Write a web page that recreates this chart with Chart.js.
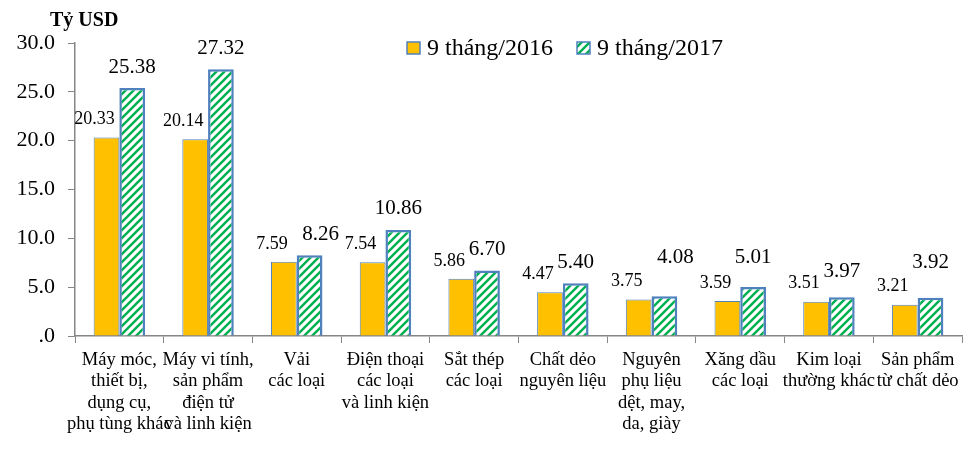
<!DOCTYPE html>
<html>
<head>
<meta charset="utf-8">
<script src="https://cdn.jsdelivr.net/npm/chart.js@4"></script>
<style>
  body { margin: 0; background: #fff; }
  #wrap { width: 975px; height: 464px; position: relative; }
</style>
</head>
<body>
<div id="wrap"><canvas id="c" width="975" height="464"></canvas></div>
<script>
const categories = [
  ["Máy móc,", "thiết bị,", "dụng cụ,", "phụ tùng khác"],
  ["Máy vi tính,", "sản phẩm", "điện tử", "và linh kiện"],
  ["Vải", "các loại"],
  ["Điện thoại", "các loại", "và linh kiện"],
  ["Sắt thép", "các loại"],
  ["Chất dẻo", "nguyên liệu"],
  ["Nguyên", "phụ liệu", "dệt, may,", "da, giày"],
  ["Xăng dầu", "các loại"],
  ["Kim loại", "thường khác"],
  ["Sản phẩm", "từ chất dẻo"]
];
const values2016 = [20.33, 20.14, 7.59, 7.54, 5.86, 4.47, 3.75, 3.59, 3.51, 3.21];
const values2017 = [25.38, 27.32, 8.26, 10.86, 6.70, 5.40, 4.08, 5.01, 3.97, 3.92];
const seriesNames = ["9 tháng/2016", "9 tháng/2017"];
const yTicks = [0, 5, 10, 15, 20, 25, 30];

// label nudges (px) for the hand-placed 2017 labels
const nudgeX2017 = [0, 0, 11, 0, 0, 0, 11, 0, 0, 0];
const nudgeY2017 = [0, 0, 0, 0, 0, 0, -18, -9, -5, -14];

const FONT = "'Liberation Serif', 'Times New Roman', serif";

// 🔹 green diagonal hatch
function makeHatch() {
  const p = document.createElement("canvas");
  p.width = 8; p.height = 8;
  const g = p.getContext("2d");
  g.fillStyle = "#fff";
  g.fillRect(0, 0, 8, 8);
  g.strokeStyle = "#00b050";
  g.lineWidth = 2.4;
  g.beginPath();
  g.moveTo(-2, 10); g.lineTo(10, -2);
  g.moveTo(-6, 6); g.lineTo(6, -6);
  g.moveTo(2, 14); g.lineTo(14, 2);
  g.stroke();
  return g.createPattern(p, "repeat");
}
const hatch = makeHatch();

// 🔹 value labels + legend + unit title
const extras = {
  id: "extras",
  afterDatasetsDraw(chart) {
    const ctx = chart.ctx;
    ctx.save();
    ctx.fillStyle = "#000";
    ctx.textAlign = "center";
    ctx.textBaseline = "middle";

    chart.getDatasetMeta(0).data.forEach((bar, j) => {
      ctx.font = "18px " + FONT;
      ctx.fillText(values2016[j].toFixed(2), bar.x - 12, bar.y - 18);
    });
    chart.getDatasetMeta(1).data.forEach((bar, j) => {
      ctx.font = "21px " + FONT;
      ctx.fillText(values2017[j].toFixed(2), bar.x + nudgeX2017[j], bar.y - 21 + nudgeY2017[j]);
    });

    // title
    ctx.font = "bold 20px " + FONT;
    ctx.textAlign = "left";
    ctx.fillText("Tỷ USD", 50, 21);

    // legend
    ctx.font = "24px " + FONT;
    let x = 407;
    const y = 48;
    chart.data.datasets.forEach((ds) => {
      ctx.fillStyle = ds.backgroundColor;
      ctx.fillRect(x, y - 6, 13, 12);
      ctx.strokeStyle = "#4f81bd";
      ctx.lineWidth = 1.5;
      ctx.strokeRect(x, y - 6, 13, 12);
      ctx.fillStyle = "#000";
      ctx.fillText(ds.label, x + 20, y + 1);
      x += 170;
    });
    ctx.restore();
  }
};

new Chart(document.getElementById("c"), {
  type: "bar",
  data: {
    labels: categories,
    datasets: [
      {
        label: seriesNames[0],
        data: values2016,
        backgroundColor: "#ffc000",
        borderColor: "#4f81bd",
        borderWidth: 1
      },
      {
        label: seriesNames[1],
        data: values2017,
        backgroundColor: hatch,
        borderColor: "#4f81bd",
        borderWidth: 2.5
      }
    ]
  },
  options: {
    responsive: false,
    animation: false,
    events: [],
    datasets: { bar: { categoryPercentage: 0.58, barPercentage: 1 } },
    layout: { padding: { left: 0, right: 13, top: 43, bottom: 0 } },
    plugins: { legend: { display: false }, tooltip: { enabled: false } },
    scales: {
      x: {
        grid: { drawOnChartArea: false, tickLength: 7, color: "#868686", offset: true },
        border: { color: "#868686", width: 1.5 },
        ticks: {
          color: "#000",
          font: { family: FONT, size: 18.5, lineHeight: 1.16 },
          maxRotation: 0,
          autoSkip: false,
          padding: 6
        },
        afterFit(s) { s.height = 128; }
      },
      y: {
        min: 0,
        max: 30,
        afterBuildTicks(s) { s.ticks = yTicks.map(v => ({ value: v })); },
        grid: { drawOnChartArea: false, tickLength: 7, color: "#868686" },
        border: { color: "#868686", width: 1.5 },
        ticks: {
          color: "#000",
          font: { family: FONT, size: 22 },
          padding: 13,
          callback: v => v === 0 ? ".0" : v.toFixed(1)
        },
        afterFit(s) { s.width = 75; }
      }
    }
  },
  plugins: [extras]
});
</script>
</body>
</html>
